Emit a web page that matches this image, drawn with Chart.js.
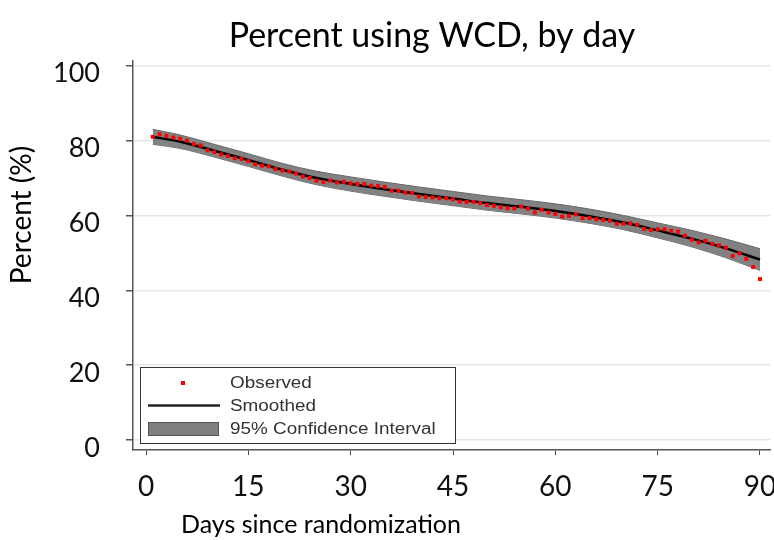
<!DOCTYPE html>
<html>
<head>
<meta charset="utf-8">
<script src="https://cdn.jsdelivr.net/npm/chart.js@4.4.1/dist/chart.umd.min.js"></script>
<style>
  html, body { margin: 0; padding: 0; background: #fff; }
  #wrap { width: 774px; height: 540px; }
</style>
</head>
<body>
<div id="wrap"><canvas id="chart" width="774" height="540"></canvas></div>
<script>
// observed daily percentages
const days = [1,2,3,4,5,6,7,8,9,10,11,12,13,14,15,16,17,18,19,20,21,22,23,24,25,26,27,28,29,30,
  31,32,33,34,35,36,37,38,39,40,41,42,43,44,45,46,47,48,49,50,51,52,53,54,55,56,57,58,59,60,
  61,62,63,64,65,66,67,68,69,70,71,72,73,74,75,76,77,78,79,80,81,82,83,84,85,86,87,88,89,90];
const observed = [81.0,81.7,81.3,80.8,80.5,80.0,79.1,78.7,77.4,76.9,76.3,75.9,75.3,75.1,74.5,
  73.7,73.3,73.1,72.4,72.0,71.7,71.2,70.4,70.0,69.3,68.9,69.3,68.8,69.0,68.6,
  68.4,68.4,68.0,67.9,67.6,66.6,66.6,66.1,66.0,65.1,64.9,64.8,64.6,64.6,64.3,
  63.7,63.6,63.6,63.3,62.8,62.6,62.2,61.9,61.9,62.4,61.8,60.8,61.5,60.8,60.4,
  59.7,59.9,60.3,59.3,59.3,59.0,58.8,58.6,57.8,57.8,57.9,57.5,56.4,56.1,56.3,
  56.3,55.9,55.7,54.6,53.5,52.8,53.2,52.4,52.0,51.4,49.2,49.9,48.4,46.2,43.0];

// smoothed curve and 95% CI
const smoothDays = [1,5,10,15,20,25,30,35,40,45,50,55,60,65,70,75,80,85,90];
const smoothed = [81.0,79.7,77.3,74.8,72.2,70.0,68.4,67.0,65.7,64.5,63.3,62.3,61.2,59.8,58.1,56.0,53.8,51.2,48.2];
const ciUpper  = [83.0,81.5,79.0,76.5,73.9,71.8,70.3,68.9,67.6,66.4,65.2,64.2,63.1,61.7,60.0,58.0,56.0,53.7,51.1];
const ciLower  = [79.0,77.9,75.6,73.1,70.5,68.2,66.5,65.1,63.8,62.6,61.4,60.4,59.3,57.9,56.2,54.0,51.6,48.7,45.3];

const xTicks = [0,15,30,45,60,75,90];
const yTicks = [0,20,40,60,80,100];

const toXY = (xs, ys) => xs.map((x, i) => ({ x: x, y: ys[i] }));

// titles and the boxed legend are drawn here
const extras = {
  id: "extras",
  afterDraw(chart) {
    const ctx = chart.ctx;
    ctx.save();
    ctx.fillStyle = "#000";
    ctx.textAlign = "center";
    ctx.textBaseline = "alphabetic";
    ctx.font = "34px Lato";
    ctx.fillText("Percent using WCD, by day", 432, 47);

    ctx.font = "25px Lato";
    ctx.fillText("Days since randomization", 321, 533);

    ctx.save();
    ctx.translate(31, 215);
    ctx.rotate(-Math.PI / 2);
    ctx.font = "28px Lato";
    ctx.fillText("Percent (%)", 0, 0);
    ctx.restore();

    // legend
    const ds = chart.data.datasets;
    ctx.fillStyle = "#fff";
    ctx.fillRect(140, 367, 315, 76);
    ctx.strokeStyle = "#333";
    ctx.lineWidth = 1;
    ctx.strokeRect(140.5, 367.5, 315, 76);

    ctx.fillStyle = "#ff0000";
    ctx.fillRect(181, 381, 4, 4);

    ctx.strokeStyle = "#222";
    ctx.lineWidth = 2.5;
    ctx.beginPath();
    ctx.moveTo(148, 405.5);
    ctx.lineTo(220, 405.5);
    ctx.stroke();

    ctx.fillStyle = "#7f7f7f";
    ctx.fillRect(148, 422, 71, 14);
    ctx.strokeStyle = "#555";
    ctx.lineWidth = 1;
    ctx.strokeRect(148.5, 422.5, 70, 13);

    ctx.fillStyle = "#333";
    ctx.textAlign = "left";
    ctx.textBaseline = "middle";
    ctx.font = "16px 'Liberation Sans'";
    const rows = [[ds[0].label, 384], [ds[1].label, 406.5], [ds[2].label, 430]];
    rows.forEach(r => {
      ctx.save();
      ctx.translate(230, r[1]);
      ctx.scale(1.18, 1);
      ctx.fillText(r[0], 0, 0);
      ctx.restore();
    });
    ctx.restore();
  }
};

new Chart(document.getElementById("chart"), {
  type: "line",
  data: {
    datasets: [
      {
        label: "Observed",
        data: toXY(days, observed),
        showLine: false,
        pointStyle: "rect",
        pointRadius: 2.8,
        pointBackgroundColor: "#ff0000",
        pointBorderWidth: 0
      },
      {
        label: "Smoothed",
        data: toXY(smoothDays, smoothed),
        borderColor: "#000",
        borderWidth: 2.5,
        pointRadius: 0,
        cubicInterpolationMode: "monotone",
        fill: false
      },
      {
        label: "95% Confidence Interval",
        data: toXY(smoothDays, ciUpper),
        borderColor: "#666",
        borderWidth: 1,
        pointRadius: 0,
        cubicInterpolationMode: "monotone",
        backgroundColor: "rgb(130,130,130)",
        fill: "+1"
      },
      {
        label: "lower",
        data: toXY(smoothDays, ciLower),
        borderColor: "#666",
        borderWidth: 1,
        pointRadius: 0,
        cubicInterpolationMode: "monotone",
        fill: false
      }
    ]
  },
  options: {
    responsive: false,
    animation: false,
    layout: { padding: { top: 61, right: 4, left: 0, bottom: 0 } },
    plugins: {
      legend: { display: false },
      title: { display: false },
      tooltip: { enabled: false }
    },
    scales: {
      x: {
        type: "linear",
        min: -1.906,
        max: 91.466,
        afterBuildTicks: (s) => { s.ticks = xTicks.map(v => ({ value: v })); },
        afterFit: (s) => { s.height = 90; s.paddingLeft = 0; s.paddingRight = 0; },
        grid: { drawOnChartArea: false, drawTicks: true, tickLength: 5, tickColor: "#444" },
        border: { color: "#555", width: 1.5 },
        ticks: { font: { family: "Lato", size: 28 }, color: "#111", padding: 15, maxRotation: 0 }
      },
      y: {
        type: "linear",
        min: -2.67,
        max: 101.26,
        afterBuildTicks: (s) => { s.ticks = yTicks.map(v => ({ value: v })); },
        afterFit: (s) => { s.width = 133; s.paddingTop = 0; s.paddingBottom = 0; },
        grid: { color: "#e6e6e6", lineWidth: 1.5, drawTicks: true, tickLength: 7, tickColor: "#555" },
        border: { color: "#555", width: 1.5 },
        ticks: { font: { family: "Lato", size: 27 }, color: "#111", padding: 26, labelOffset: 8 }
      }
    }
  },
  plugins: [extras]
});
</script>
</body>
</html>
